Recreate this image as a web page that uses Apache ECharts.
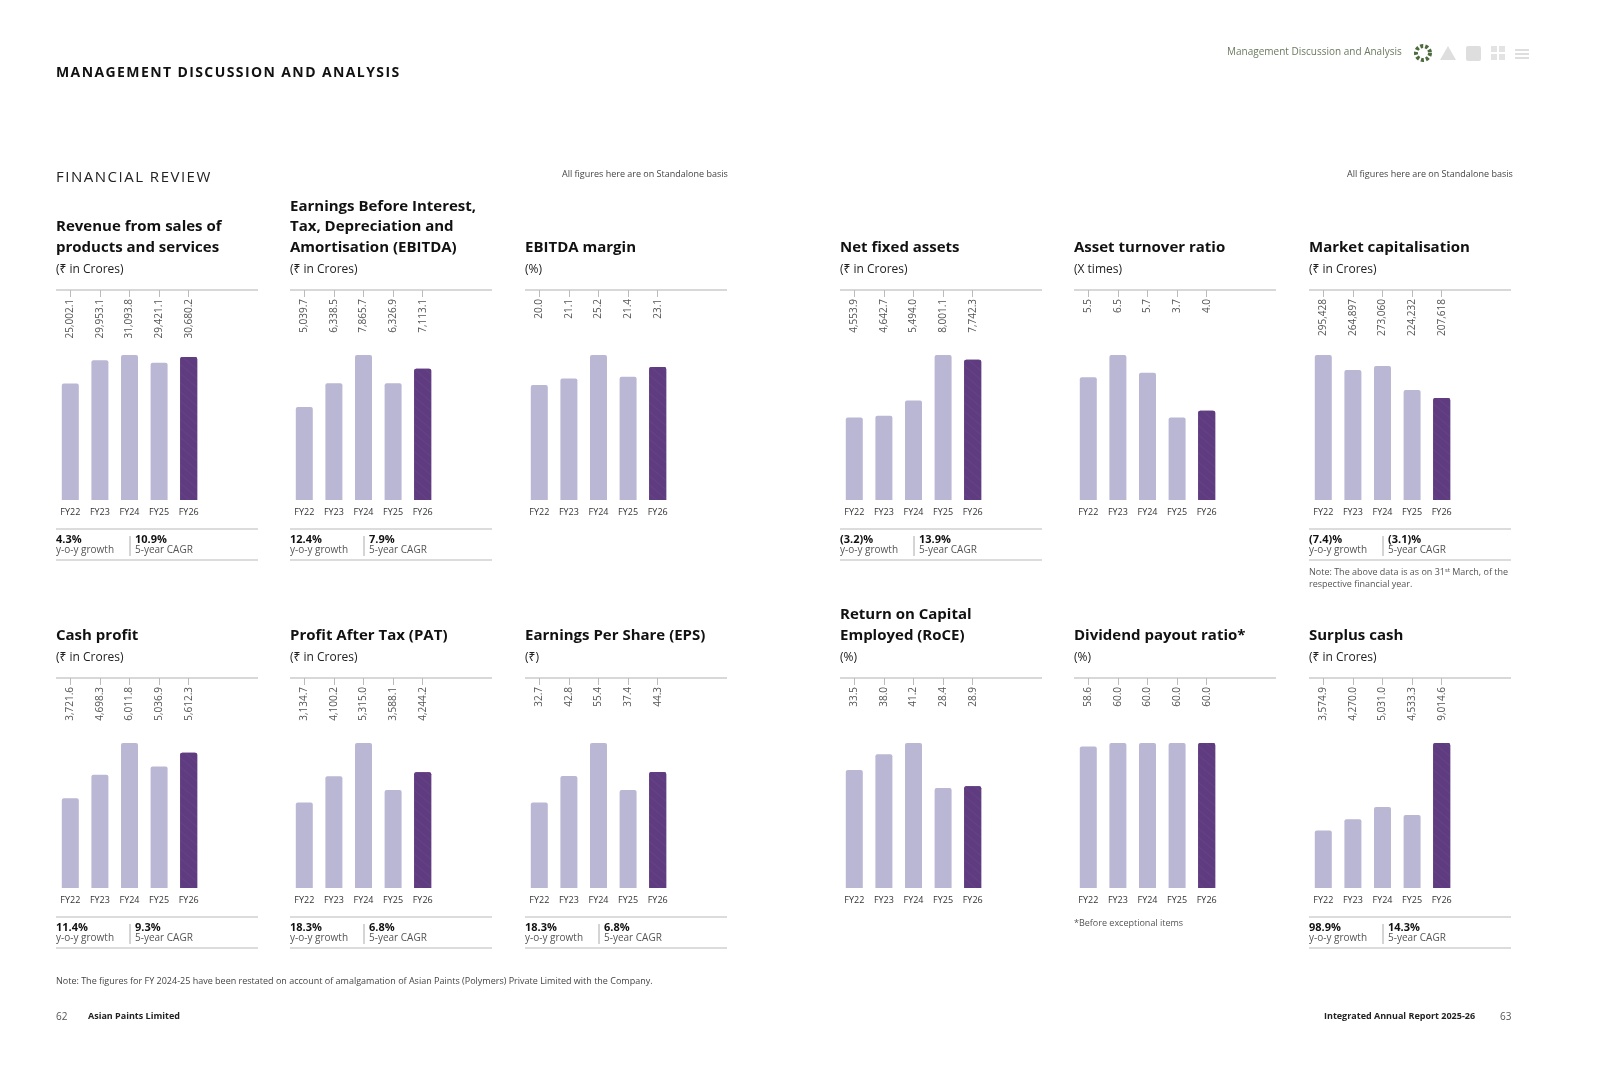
<!DOCTYPE html>
<html><head><meta charset="utf-8">
<script src="https://cdn.jsdelivr.net/npm/echarts@6/dist/echarts.min.js"></script>
<style>html,body{margin:0;padding:0;background:#fff}#c{width:1600px;height:1067px}</style>
</head><body><div id="c"></div>
<script>
const years = ['FY22','FY23','FY24','FY25','FY26'];
const revenue = [25002.1, 29953.1, 31093.8, 29421.1, 30680.2];
const ebitda = [5039.7, 6338.5, 7865.7, 6326.9, 7113.1];
const ebitdaMargin = [20.0, 21.1, 25.2, 21.4, 23.1];
const netFixedAssets = [4553.9, 4642.7, 5494.0, 8001.1, 7742.3];
const assetTurnover = [5.5, 6.5, 5.7, 3.7, 4.0];
const marketCap = [295428, 264897, 273060, 224232, 207618];
const cashProfit = [3721.6, 4698.3, 6011.8, 5036.9, 5612.3];
const pat = [3134.7, 4100.2, 5315.0, 3588.1, 4244.2];
const eps = [32.7, 42.8, 55.4, 37.4, 44.3];
const roce = [33.5, 38.0, 41.2, 28.4, 28.9];
const dividendPayout = [58.6, 60.0, 60.0, 60.0, 60.0];
const surplusCash = [3574.9, 4270.0, 5031.0, 4533.3, 9014.6];

const charts = [
  {t:['Revenue from sales of','products and services'], u:'(₹ in Crores)', d:revenue, dec:1, s:['4.3%','10.9%']},
  {t:['Earnings Before Interest,','Tax, Depreciation and','Amortisation (EBITDA)'], u:'(₹ in Crores)', d:ebitda, dec:1, s:['12.4%','7.9%']},
  {t:['EBITDA margin'], u:'(%)', d:ebitdaMargin, dec:1},
  {t:['Net fixed assets'], u:'(₹ in Crores)', d:netFixedAssets, dec:1, s:['(3.2)%','13.9%']},
  {t:['Asset turnover ratio'], u:'(X times)', d:assetTurnover, dec:1},
  {t:['Market capitalisation'], u:'(₹ in Crores)', d:marketCap, dec:0, s:['(7.4)%','(3.1)%']},
  {t:['Cash profit'], u:'(₹ in Crores)', d:cashProfit, dec:1, s:['11.4%','9.3%']},
  {t:['Profit After Tax (PAT)'], u:'(₹ in Crores)', d:pat, dec:1, s:['18.3%','6.8%']},
  {t:['Earnings Per Share (EPS)'], u:'(₹)', d:eps, dec:1, s:['18.3%','6.8%']},
  {t:['Return on Capital','Employed (RoCE)'], u:'(%)', d:roce, dec:1},
  {t:['Dividend payout ratio*'], u:'(%)', d:dividendPayout, dec:1},
  {t:['Surplus cash'], u:'(₹ in Crores)', d:surplusCash, dec:1, s:['98.9%','14.3%']}
];
const colX = [56, 290, 525, 840, 1074, 1309];
const rowY = [290, 678];
const F = '"Open Sans", "Noto Sans", sans-serif';
const fmt = (v,dec)=> v.toLocaleString('en-US',{minimumFractionDigits:dec,maximumFractionDigits:dec});

const grid=[], xAxis=[], yAxis=[], series=[], graphic=[];
function txt(x,y,s,o){graphic.push({type:'text',left:x,top:y,style:Object.assign({text:s,fill:'#222',font:'12px '+F},o||{})});}
function line(x1,y1,x2,y2,c,w){graphic.push({type:'line',shape:{x1,y1,x2,y2},style:{stroke:c||'#d0d0d0',lineWidth:w||1.5}});}
const noDecal={symbol:'none'};
const swirl={symbol:'circle',symbolSize:0.7,color:'rgba(150,110,180,0.55)',dashArrayX:[[1,0],[1,0]],dashArrayY:[3,4],rotation:0.7,backgroundColor:'#5f3b80'};

charts.forEach((c,i)=>{
  const col=i%6,row=Math.floor(i/6);
  const x=colX[col], y=rowY[row];
  const mx=Math.max(...c.d);
  grid.push({left:x-0.5,top:y,width:148,height:210});
  xAxis.push({type:'category',gridIndex:i,data:years,position:'bottom',
    axisLine:{show:false},axisTick:{show:false},
    axisLabel:{color:'#333',fontSize:9,fontFamily:F,margin:8}});
  xAxis.push({type:'category',gridIndex:i,data:c.d.map(v=>fmt(v,c.dec)),position:'top',
    axisLine:{show:false},axisTick:{show:true,inside:true,length:7,alignWithLabel:true,lineStyle:{color:'#bbb'}},
    axisLabel:{inside:true,rotate:-90,color:'#555',fontSize:10,fontFamily:F,margin:9}});
  yAxis.push({type:'value',gridIndex:i,min:0,max:mx*210/145,show:false,splitLine:{show:false}});
  series.push({type:'bar',xAxisIndex:2*i,yAxisIndex:i,barWidth:17,
    data:c.d.map((v,k)=>({value:v,itemStyle:{color:k===4?'#5f3b80':'#bab7d4',
      decal:k===4?swirl:noDecal, borderRadius:[2,2,0,0]}}))});
  const n=c.t.length;
  c.t.forEach((l,k)=>txt(x,y-50-(n-1-k)*20.5,l,{font:'bold 15px '+F,fill:'#111'}));
  txt(x,y-26,c.u,{font:'12px '+F,fill:'#222'});
  line(x,y,x+202,y,'#d8d8d8',2);
  if(c.s){
    const sy=y+239;
    line(x,sy,x+202,sy,'#d0d0d0',1.5);
    txt(x,sy+5,c.s[0],{font:'bold 11px '+F,fill:'#111'});
    txt(x,sy+16,'y-o-y growth',{font:'10px '+F,fill:'#555'});
    line(x+74,sy+7,x+74,sy+27,'#aaa',1);
    txt(x+79,sy+5,c.s[1],{font:'bold 11px '+F,fill:'#111'});
    txt(x+79,sy+16,'5-year CAGR',{font:'10px '+F,fill:'#555'});
    line(x,sy+31,x+202,sy+31,'#d0d0d0',1.5);
  }
});
const spaced=s=>s.split('').join('\u200A');
txt(56,66,spaced('MANAGEMENT DISCUSSION AND ANALYSIS'),{font:'bold 14px '+F,fill:'#111'});
txt(56,170,spaced('FINANCIAL REVIEW'),{font:'15px '+F,fill:'#222'});
txt(562,170,'All figures here are on Standalone basis',{font:'9px '+F,fill:'#444'});
txt(1347,170,'All figures here are on Standalone basis',{font:'9px '+F,fill:'#444'});
txt(1227,47,'Management Discussion and Analysis',{font:'10px '+F,fill:'#6b7a5f'});
graphic.push({type:'circle',shape:{cx:1423,cy:53,r:7},style:{fill:'none',stroke:'#4e6b3e',lineWidth:4,lineDash:[3,2]}});
graphic.push({type:'polygon',shape:{points:[[1448,46],[1440,60],[1456,60]]},style:{fill:'#dedede'}});
graphic.push({type:'rect',shape:{x:1466,y:46,width:15,height:15,r:2},style:{fill:'#dedede'}});
[[1491,46],[1499,46],[1491,54],[1499,54]].forEach(p=>graphic.push({type:'rect',shape:{x:p[0],y:p[1],width:6,height:6},style:{fill:'#e3e3e3'}}));
[49,53,57].forEach(yy=>graphic.push({type:'rect',shape:{x:1515,y:yy,width:14,height:2},style:{fill:'#dedede'}}));
txt(1309,568,'Note: The above data is as on 31ˢᵗ March, of the',{font:'9px '+F,fill:'#555'});
txt(1309,580,'respective financial year.',{font:'9px '+F,fill:'#555'});
txt(1074,919,'*Before exceptional items',{font:'9px '+F,fill:'#555'});
txt(56,977,'Note: The figures for FY 2024-25 have been restated on account of amalgamation of Asian Paints (Polymers) Private Limited with the Company.',{font:'9px '+F,fill:'#444'});
txt(56,1012,'62',{font:'10px '+F,fill:'#555'});
txt(88,1012,'Asian Paints Limited',{font:'bold 9px '+F,fill:'#222'});
txt(1324,1012,'Integrated Annual Report 2025-26',{font:'bold 9px '+F,fill:'#222'});
txt(1500,1012,'63',{font:'10px '+F,fill:'#555'});

const chart=echarts.init(document.getElementById('c'));
chart.setOption({animation:false,aria:{enabled:true,decal:{show:true}},grid,xAxis,yAxis,series,graphic});
</script></body></html>
